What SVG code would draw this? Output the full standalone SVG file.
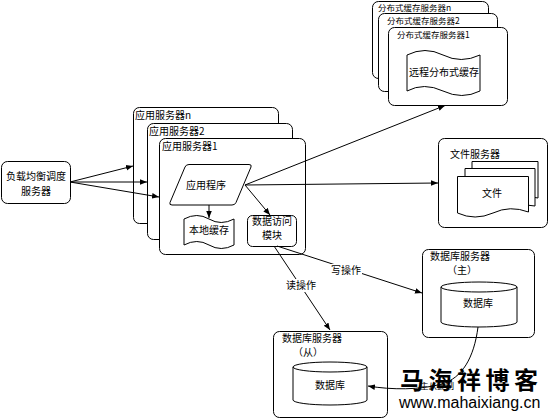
<svg xmlns="http://www.w3.org/2000/svg" width="550" height="419" viewBox="0 0 550 419">
<defs>
<marker id="ah" viewBox="0 0 10 10" refX="10" refY="5" markerWidth="7" markerHeight="7" orient="auto" markerUnits="userSpaceOnUse">
<path d="M0,1 L10,5 L0,9 Z" fill="#000"/>
</marker>
<style>
.b{fill:#fff;stroke:#000;stroke-width:1}
.t{font-family:"Noto Sans CJK SC","Liberation Sans",sans-serif;font-size:10px;fill:#000}
.s{font-family:"Noto Sans CJK SC","Liberation Sans",sans-serif;font-size:8.5px;fill:#000}
.m{text-anchor:middle}
.c{fill:none;stroke:#000;stroke-width:1;marker-end:url(#ah)}
</style>
</defs>
<rect width="550" height="419" fill="#fff"/>

<g id="lb">
<rect class="b" x="1.5" y="161.5" width="69" height="42" rx="6"/>
<text class="t m" x="36" y="180">负载均衡调度</text>
<text class="t m" x="36" y="195">服务器</text>
</g>

<g id="appn"><rect class="b" x="133.5" y="107.5" width="145" height="116" rx="6"/><text class="t" x="135" y="119">应用服务器n</text></g>
<g id="app2"><rect class="b" x="147.5" y="123.5" width="145" height="116" rx="6"/><text class="t" x="149" y="135">应用服务器2</text></g>
<g id="app1"><rect class="b" x="159.5" y="138.5" width="146" height="116" rx="6"/><text class="t" x="162" y="150">应用服务器1</text></g>

<g id="app-prog">
<path class="b" d="M189,164.5 L249,164.5 Q252,164.5 251,167 L236,202.5 Q235,205 232,205 L172,205 Q169,205 170,202.5 L185,167 Q186,164.5 189,164.5 Z" stroke-linejoin="round"/>
<text class="t m" x="206" y="189">应用程序</text>
</g>

<g id="local-cache">
<path class="b" d="M184,219 Q197,212 209,219 T234,219 L234,245 Q221,252 209,245 T184,245 Z"/>
<text class="t m" x="209" y="234">本地缓存</text>
</g>

<g id="dao">
<rect class="b" x="247.5" y="215.5" width="49" height="31" rx="5"/>
<text class="t m" x="272" y="225">数据访问</text>
<text class="t m" x="272" y="239">模块</text>
</g>

<g id="cachen"><rect class="b" x="372.5" y="1.5" width="116" height="77" rx="6"/><text class="s" x="378" y="11">分布式缓存服务器n</text></g>
<g id="cache2"><rect class="b" x="378.5" y="13.5" width="119" height="78" rx="6"/><text class="s" x="387" y="24">分布式缓存服务器2</text></g>
<g id="cache1"><rect class="b" x="388.5" y="27.5" width="119" height="78" rx="6"/><text class="s" x="397" y="38">分布式缓存服务器1</text>
<path class="b" d="M407,55 Q425,46 443,55 T480,55 L480,91 Q462,100 443,91 T407,91 Z"/>
<text class="t m" x="444" y="76">远程分布式缓存</text>
</g>

<g id="filesrv">
<rect class="b" x="438.5" y="138.5" width="109" height="89" rx="6"/>
<text class="t" x="450" y="158">文件服务器</text>
<path class="b" d="M472,161.5 L538,161.5 L538,198 Q531,196 527,198 L527,190 L472,190 Z"/>
<path class="b" d="M465,168.5 L535,168.5 L535,206 Q529,204 521,207 L521,198 L465,198 Z"/>
<path class="b" d="M457.5,176.5 L528.5,176.5 L528.5,212 Q510,205 493,213 Q475,221 457.5,213 Z"/>
<text class="t m" x="492" y="197">文件</text>
</g>

<g id="db-master">
<rect class="b" x="422.5" y="249.5" width="112" height="88" rx="6"/>
<text class="t" x="430" y="260">数据库服务器</text>
<text class="t" x="447" y="274">（主）</text>
<path class="b" d="M441,287 A38,5 0 0 1 517,287 L517,322 A38,5 0 0 1 441,322 Z"/>
<path d="M441,287 A38,5 0 0 0 517,287" fill="none" stroke="#000"/>
<text class="t m" x="478" y="307">数据库</text>
</g>

<g id="db-slave">
<rect class="b" x="273.5" y="331.5" width="114" height="86" rx="6"/>
<text class="t" x="282" y="342">数据库服务器</text>
<text class="t" x="293" y="356">（从）</text>
<path class="b" d="M293,367 A37,5 0 0 1 367,367 L367,400 A37,5 0 0 1 293,400 Z"/>
<path d="M293,367 A37,5 0 0 0 367,367" fill="none" stroke="#000"/>
<text class="t m" x="330" y="389">数据库</text>
</g>

<g id="connectors">
<path class="c" d="M70,182 L133,166"/>
<path class="c" d="M70,182 L147,182"/>
<path class="c" d="M70,182 L159,197"/>
<path class="c" d="M245,185 L445,105.5"/>
<path class="c" d="M245,185 L438,183"/>
<path class="c" d="M245,185 L270,215"/>
<path class="c" d="M209,205 L209,218"/>
<path class="c" d="M277,246 L422,293"/>
<path class="c" d="M274,246 L330,330"/>
<path class="c" d="M478,327 C474,358 462,378 442,384 C420,390 392,390 368,386"/>
<rect x="329" y="264" width="33" height="13" fill="#fff"/>
<text class="t" x="331" y="274">写操作</text>
<rect x="284" y="279" width="33" height="13" fill="#fff"/>
<text class="t" x="286" y="289">读操作</text>
<text class="s" x="420" y="389">主从复制</text>
</g>

<g id="watermark">
<text x="400" y="389" style="font-family:'Noto Sans CJK SC',sans-serif;font-size:24px;font-weight:bold;letter-spacing:4.5px" fill="#000">马海祥博客</text>
<text x="399" y="408" style="font-family:'Liberation Sans',Arial,sans-serif;font-size:16px" fill="#000">www.mahaixiang.cn</text>
</g>
</svg>
